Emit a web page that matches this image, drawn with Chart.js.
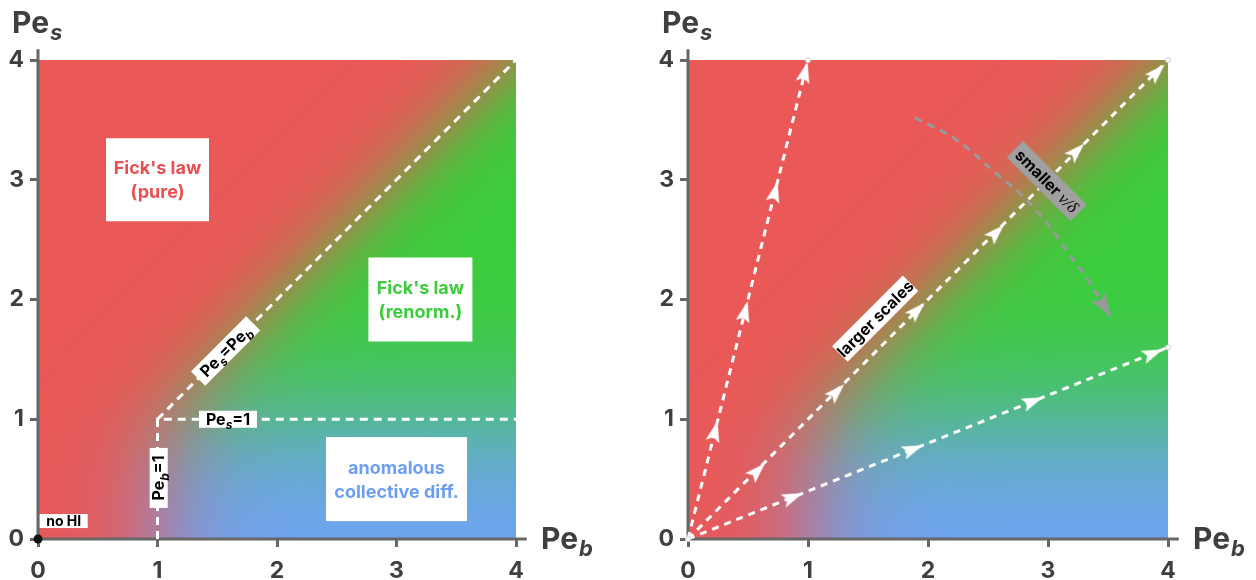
<!DOCTYPE html>
<html>
<head>
<meta charset="utf-8">
<script src="https://cdn.jsdelivr.net/npm/chart.js@4.4.1/dist/chart.umd.min.js"></script>
<style>
  html, body { margin: 0; padding: 0; background: #fff; }
  #wrap { position: relative; width: 1256px; height: 580px; }
  canvas { position: absolute; top: 0; }
  #leftChart { left: 0; }
  #rightChart { left: 650px; }
</style>
</head>
<body>
<div id="wrap">
  <canvas id="leftChart" width="628" height="580"></canvas>
  <canvas id="rightChart" width="606" height="580"></canvas>
</div>
<script>
// ---- data (Pe_b on x, Pe_s on y) ----
const tickValues = [0, 1, 2, 3, 4];

// left panel: phase boundaries
const boundaryPeb1Pes1 = [{ x: 1, y: 0 }, { x: 1, y: 1 }, { x: 4, y: 1 }];
const boundaryDiagonal = [{ x: 1, y: 1 }, { x: 4, y: 4 }];
const noHiPoint = [{ x: 0, y: 0 }];

// right panel: flow rays and their arrow marks
const raySteep = [{ x: 0, y: 0 }, { x: 1, y: 4 }];
const rayDiagonal = [{ x: 0, y: 0 }, { x: 4, y: 4 }];
const rayShallow = [{ x: 0, y: 0 }, { x: 4, y: 1.6 }];
const arrowsSteep = [{ x: 0.225, y: 0.9 }, { x: 0.475, y: 1.9 }, { x: 0.725, y: 2.9 }, { x: 0.975, y: 3.9 }];
const arrowsDiagonal = [{ x: 0.58, y: 0.57 }, { x: 1.24, y: 1.23 }, { x: 1.91, y: 1.91 }, { x: 2.57, y: 2.56 }, { x: 3.24, y: 3.24 }, { x: 3.91, y: 3.9 }];
const arrowsShallow = [{ x: 0.875, y: 0.35 }, { x: 1.875, y: 0.75 }, { x: 2.875, y: 1.15 }, { x: 3.875, y: 1.55 }];
const viscosityCurve = [
  { x: 1.89, y: 3.52 }, { x: 2.24, y: 3.33 }, { x: 2.57, y: 3.05 }, { x: 2.77, y: 2.88 },
  { x: 2.99, y: 2.64 }, { x: 3.16, y: 2.40 }, { x: 3.32, y: 2.18 }, { x: 3.52, y: 1.86 }
];

// ---- colours ----
const RED = [234, 88, 88];
const GREEN = [58, 205, 58];
const BLUE = [112, 162, 246];
const FONT = 'Inter';

function sig(z) { return 1 / (1 + Math.exp(-z)); }

function phaseColor(b, s) {
  const k = 0.25;
  const m = k * Math.log(Math.exp(s / k) + Math.exp(1 / k)); // smooth max(Pe_s, 1)
  const f = sig((b - m) / 0.24);     // red -> not red
  const g = sig((s - 1) / 0.33);     // blue -> green
  const out = [];
  for (let i = 0; i < 3; i++) {
    const other = (1 - g) * BLUE[i] + g * GREEN[i];
    out.push((1 - f) * RED[i] + f * other);
  }
  return out;
}

function makeArrow(color, len, wid, tipAtCenter) {
  const c = document.createElement('canvas');
  c.width = wid;
  c.height = tipAtCenter ? len * 2 : len;
  const g = c.getContext('2d');
  const top = tipAtCenter ? len : 0;
  g.fillStyle = color;
  g.beginPath();
  g.moveTo(wid / 2, top);
  g.lineTo(wid, top + len);
  g.lineTo(wid / 2, top + len * 0.8);
  g.lineTo(0, top + len);
  g.closePath();
  g.fill();
  return c;
}

const whiteArrow = makeArrow('#ffffff', 21, 14, false);
const grayArrow = makeArrow('#9a9a9a', 23, 16, true);

function rayAngle(chart, a, b) {
  const { x, y } = chart.scales;
  const dx = x.getPixelForValue(b.x) - x.getPixelForValue(a.x);
  const dy = y.getPixelForValue(b.y) - y.getPixelForValue(a.y);
  return Math.atan2(dx, -dy) * 180 / Math.PI;
}

function drawRich(ctx, parts, cx, cy, color, size) {
  const fonts = parts.map(p => p.font || (p.sub
    ? `italic bold ${Math.round(size * 0.75)}px ${FONT}`
    : `bold ${size}px ${FONT}`));
  let total = 0;
  parts.forEach((p, i) => { ctx.font = fonts[i]; total += ctx.measureText(p.t).width; });
  let x = cx - total / 2;
  const base = cy + size * 0.36;
  ctx.textAlign = 'left';
  ctx.textBaseline = 'alphabetic';
  ctx.fillStyle = color;
  parts.forEach((p, i) => {
    ctx.font = fonts[i];
    ctx.fillText(p.t, x, base + (p.sub ? size * 0.28 : 0));
    x += ctx.measureText(p.t).width;
  });
}

function drawTag(ctx, chart, tag) {
  const px = chart.scales.x.getPixelForValue(tag.at[0]);
  const py = chart.scales.y.getPixelForValue(tag.at[1]);
  ctx.save();
  ctx.translate(px, py);
  ctx.rotate((tag.angle || 0) * Math.PI / 180);
  ctx.fillStyle = tag.fill;
  ctx.fillRect(-tag.w / 2, -tag.h / 2, tag.w, tag.h);
  const n = tag.lines.length;
  tag.lines.forEach((parts, i) => {
    drawRich(ctx, parts, 0, (i - (n - 1) / 2) * (tag.lh || 0), tag.color, tag.size);
  });
  ctx.restore();
}

const fieldPlugin = {
  id: 'field',
  beforeDatasetsDraw(chart) {
    const { ctx, chartArea: a, scales: { x, y } } = chart;
    const w = Math.round(a.right - a.left);
    const h = Math.round(a.bottom - a.top);
    const img = ctx.createImageData(w, h);
    for (let j = 0; j < h; j++) {
      const s = y.getValueForPixel(a.top + j + 0.5);
      for (let i = 0; i < w; i++) {
        const b = x.getValueForPixel(a.left + i + 0.5);
        const c = phaseColor(b, s);
        const k = (j * w + i) * 4;
        img.data[k] = c[0];
        img.data[k + 1] = c[1];
        img.data[k + 2] = c[2];
        img.data[k + 3] = 255;
      }
    }
    ctx.putImageData(img, Math.round(a.left), Math.round(a.top));

    // axis lines, running a little past the last tick
    const x0 = x.getPixelForValue(0), y0 = y.getPixelForValue(0);
    ctx.save();
    ctx.strokeStyle = '#676767';
    ctx.lineWidth = 3;
    ctx.beginPath();
    ctx.moveTo(x0, y0 + 1.5);
    ctx.lineTo(x0, y.getPixelForValue(4.09));
    ctx.moveTo(x0 - 1.5, y0);
    ctx.lineTo(x.getPixelForValue(4.09), y0);
    ctx.stroke();
    ctx.restore();
  }
};

const tagPlugin = {
  id: 'tags',
  afterDatasetsDraw(chart, args, opts) {
    (opts.items || []).forEach(t => drawTag(chart.ctx, chart, t));
  },
  afterDraw(chart) {
    const { ctx, chartArea: a } = chart;
    ctx.save();
    ctx.fillStyle = '#3f3f3f';
    ctx.textBaseline = 'alphabetic';
    ctx.textAlign = 'left';
    // Pe_s above the y axis
    ctx.font = `bold 30px ${FONT}`;
    ctx.fillText('Pe', 12, 33);
    let w = ctx.measureText('Pe').width;
    ctx.font = `italic bold 22px ${FONT}`;
    ctx.fillText('s', 12 + w + 1, 40);
    // Pe_b at the end of the x axis
    ctx.font = `bold 30px ${FONT}`;
    ctx.fillText('Pe', a.right + 25, 549);
    w = ctx.measureText('Pe').width;
    ctx.font = `italic bold 22px ${FONT}`;
    ctx.fillText('b', a.right + 25 + w + 1, 556);
    ctx.restore();
  }
};

function axisOptions(isY) {
  return {
    type: 'linear',
    min: 0,
    max: 4,
    afterBuildTicks: axis => { axis.ticks = tickValues.map(v => ({ value: v })); },
    afterFit: axis => { if (isY) axis.width = 38; else axis.height = 41; },
    grid: { drawOnChartArea: false, drawTicks: true, tickLength: 8, color: '#676767', lineWidth: 3 },
    border: { display: false },
    ticks: {
      color: '#3f3f3f',
      padding: isY ? 6 : 10,
      font: { family: FONT, size: 23, weight: 'bold' }
    }
  };
}

function makePanel(canvasId, padRight, datasets, tags) {
  const canvas = document.getElementById(canvasId);
  const existing = Chart.getChart(canvas);
  if (existing) existing.destroy();
  return new Chart(canvas.getContext('2d'), {
    type: 'scatter',
    data: { datasets },
    options: {
      responsive: false,
      animation: false,
      devicePixelRatio: 1,
      layout: { padding: { top: 60, right: padRight, bottom: 0, left: 0 } },
      plugins: { legend: { display: false }, tooltip: { enabled: false }, tags: { items: tags } },
      scales: { x: axisOptions(false), y: axisOptions(true) }
    },
    plugins: [fieldPlugin, tagPlugin]
  });
}

const dashedWhite = {
  showLine: true,
  borderColor: '#ffffff',
  borderWidth: 3,
  borderDash: [8, 6],
  pointRadius: 0,
  clip: false
};

const pe = (sub, rest) => [{ t: 'Pe' }, { t: sub, sub: true }].concat(rest || []);

// ---- left panel ----
makePanel('leftChart', 112, [
  Object.assign({ label: 'Pe_b = 1, Pe_s = 1', data: boundaryPeb1Pes1 }, dashedWhite),
  Object.assign({ label: 'Pe_s = Pe_b', data: boundaryDiagonal }, dashedWhite),
  { label: 'no HI', data: noHiPoint, pointRadius: 4.5, pointBackgroundColor: '#111', pointBorderWidth: 0, clip: false }
], [
  { at: [1.57, 1.57], angle: -45, w: 78, h: 20, fill: '#fff', color: '#000', size: 16,
    lines: [pe('s', [{ t: '=Pe' }, { t: 'b', sub: true }])] },
  { at: [1.59, 1.0], angle: 0, w: 58, h: 17, fill: '#fff', color: '#000', size: 16,
    lines: [pe('s', [{ t: '=1' }])] },
  { at: [1.01, 0.51], angle: -90, w: 60, h: 18, fill: '#fff', color: '#000', size: 16,
    lines: [pe('b', [{ t: '=1' }])] },
  { at: [0.215, 0.15], angle: 0, w: 48, h: 14, fill: '#fff', color: '#000', size: 14,
    lines: [[{ t: 'no HI' }]] },
  { at: [1.0, 3.0], w: 103, h: 83, lh: 24, fill: '#fff', color: '#e94f50', size: 18,
    lines: [[{ t: "Fick's law" }], [{ t: '(pure)' }]] },
  { at: [3.2, 2.0], w: 104, h: 84, lh: 24, fill: '#fff', color: '#3acc3a', size: 18,
    lines: [[{ t: "Fick's law" }], [{ t: '(renorm.)' }]] },
  { at: [3.0, 0.5], w: 141, h: 84, lh: 24, fill: '#fff', color: '#6c9ff3', size: 18,
    lines: [[{ t: 'anomalous' }], [{ t: 'collective diff.' }]] }
]);

// ---- right panel ----
function rayDataset(label, data) {
  return Object.assign({}, dashedWhite, {
    label, data,
    borderDash: [7, 6],
    pointRadius: [2.5, 2.5],
    pointBackgroundColor: '#ffffff',
    pointBorderColor: '#cfcfcf',
    pointBorderWidth: 1
  });
}

function arrowDataset(label, data, ray, img) {
  return {
    label, data,
    showLine: false,
    pointStyle: img,
    pointRadius: 5,
    rotation: ctx => rayAngle(ctx.chart, ray[0], ray[ray.length - 1]),
    clip: false
  };
}

makePanel('rightChart', 88, [
  rayDataset('steep', raySteep),
  rayDataset('diagonal', rayDiagonal),
  rayDataset('shallow', rayShallow),
  arrowDataset('steep arrows', arrowsSteep, raySteep, whiteArrow),
  arrowDataset('diagonal arrows', arrowsDiagonal, rayDiagonal, whiteArrow),
  arrowDataset('shallow arrows', arrowsShallow, rayShallow, whiteArrow),
  {
    label: 'smaller nu/delta',
    data: viscosityCurve,
    showLine: true,
    tension: 0.4,
    borderColor: '#9a9a9a',
    borderWidth: 3,
    borderDash: [8, 6],
    pointRadius: 0,
    clip: false
  },
  arrowDataset('curve arrow', viscosityCurve.slice(-1),
    viscosityCurve.slice(-2), grayArrow)
], [
  { at: [1.56, 1.84], angle: -45, w: 100, h: 22, fill: '#fff', color: '#000', size: 16,
    lines: [[{ t: 'larger scales' }]] },
  { at: [2.99, 2.99], angle: 45, w: 90, h: 23, fill: '#a0a0a0', color: '#000', size: 16,
    lines: [[{ t: 'smaller ' }, { t: 'ν/δ', font: 'italic 17px "Liberation Serif"' }]] }
]);
</script>
</body>
</html>
